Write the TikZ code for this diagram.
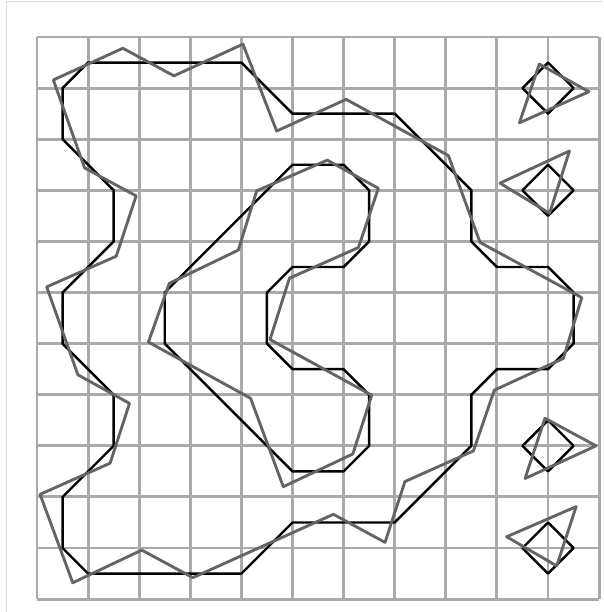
\documentclass[tikz,border=0pt]{standalone}
\usepackage{xcolor}
\definecolor{gridgray}{RGB}{170,170,170}
\definecolor{fitgray}{RGB}{100,100,100}
\definecolor{framegray}{RGB}{218,218,218}

\begin{document}
\begin{tikzpicture}[
  x=1cm, y=-1cm,
  gridline/.style={draw=gridgray, line width=1.6pt},
  contour/.style={draw=black, line width=1.35pt, line join=round},
  fitted/.style={draw=fitgray, line width=1.6pt, line join=round},
  framel/.style={draw=framegray, line width=0.6pt},
]
\useasboundingbox (-0.724,-0.724) rectangle (11.076,11.252);

% Outer frame
\draw[framel] (-0.597,-0.695) -- (11.076,-0.695);
\draw[framel] (-0.597,-0.695) -- (-0.597,11.252);

% Grid
\draw[gridline] (0,0) grid (11,11);

% Level-set contours
\draw[contour] (1,0.5) -- (4,0.5) -- (5,1.5) -- (7,1.5) -- (8.5,3) -- (8.5,4)
  -- (9,4.5) -- (10,4.5) -- (10.5,5) -- (10.5,6) -- (10,6.5) -- (9,6.5)
  -- (8.5,7) -- (8.5,8) -- (7,9.5) -- (5,9.5) -- (4,10.5) -- (1,10.5)
  -- (0.5,10) -- (0.5,9) -- (1.5,8) -- (1.5,7) -- (0.5,6) -- (0.5,5)
  -- (1.5,4) -- (1.5,3) -- (0.5,2) -- (0.5,1) -- cycle;
\draw[contour] (5,2.5) -- (2.5,5) -- (2.5,6) -- (5,8.5) -- (6,8.5) -- (6.5,8)
  -- (6.5,7) -- (6,6.5) -- (5,6.5) -- (4.5,6) -- (4.5,5) -- (5,4.5)
  -- (6,4.5) -- (6.5,4) -- (6.5,3) -- (6,2.5) -- cycle;
\foreach \cy in {1,3,8,10}
  \draw[contour] (10,\cy-0.5) -- (10.5,\cy) -- (10,\cy+0.5) -- (9.5,\cy) -- cycle;

% Fitted polygons
\draw[fitted] (0.32,0.84) -- (1.68,0.22) -- (2.68,0.76) -- (4.03,0.14)
  -- (4.69,1.84) -- (6.05,1.22) -- (8.05,2.32) -- (8.67,4.02) -- (10.66,5.10)
  -- (10.30,6.29) -- (8.95,6.91) -- (8.54,8.10) -- (7.20,8.70) -- (6.81,9.89)
  -- (5.80,9.34) -- (3.05,10.58) -- (2.05,10.04) -- (0.70,10.68) -- (0.06,8.95)
  -- (1.43,8.34) -- (1.81,7.17) -- (0.80,6.61) -- (0.19,4.89) -- (1.55,4.29)
  -- (1.94,3.11) -- (0.93,2.56) -- cycle;
\draw[fitted] (5.68,2.41) -- (6.68,2.96) -- (6.29,4.12) -- (4.94,4.72)
  -- (4.56,5.92) -- (6.55,7.01) -- (6.18,8.16) -- (4.82,8.80) -- (4.18,7.07)
  -- (2.18,5.97) -- (2.59,4.82) -- (3.94,4.17) -- (4.30,3.01) -- cycle;
\draw[fitted] (9.83,0.53) -- (10.80,1.07) -- (9.44,1.68) -- cycle;
\draw[fitted] (10.42,2.23) -- (9.06,2.86) -- (10.03,3.45) -- cycle;
\draw[fitted] (9.94,7.46) -- (10.94,8.00) -- (9.55,8.64) -- cycle;
\draw[fitted] (10.55,9.19) -- (9.19,9.78) -- (10.17,10.35) -- cycle;
\end{tikzpicture}
\end{document}
